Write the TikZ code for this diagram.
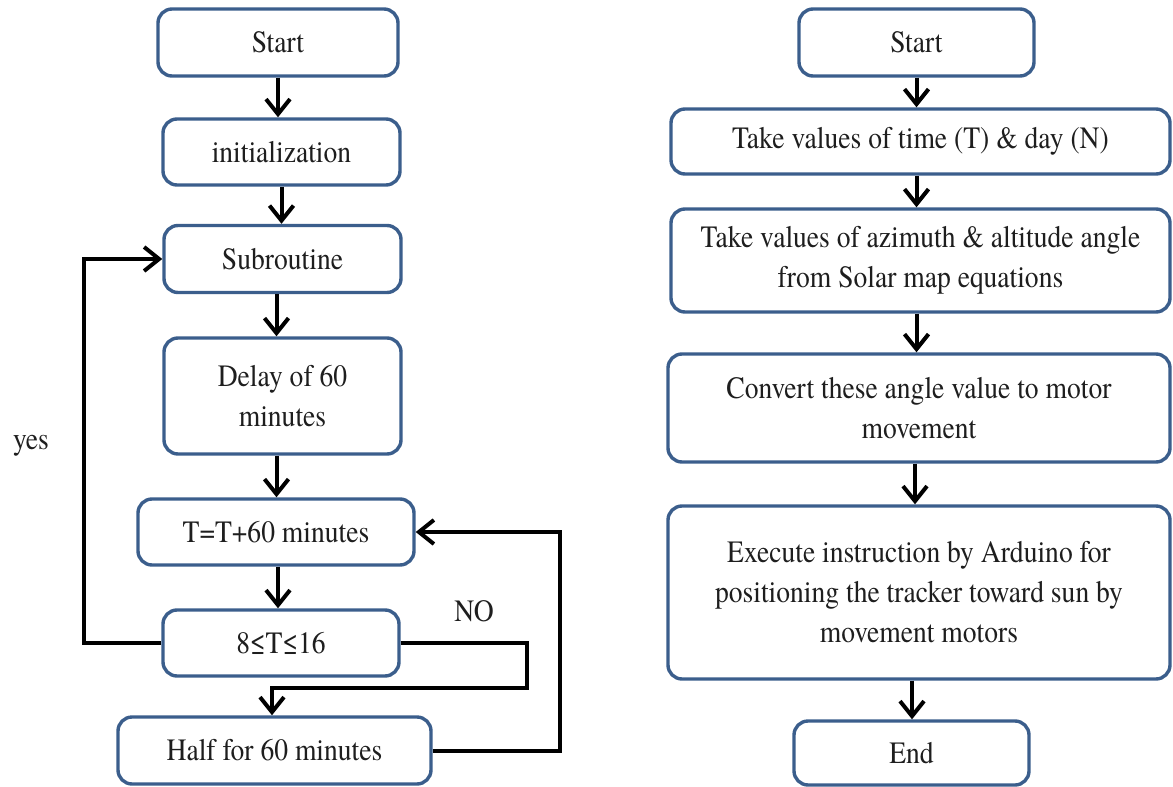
\documentclass[tikz,border=0pt]{standalone}
\usepackage{fontspec}
\newfontfamily\tnr[FakeStretch=0.89]{TeX Gyre Termes}
\usetikzlibrary{arrows.meta}
\definecolor{boxblue}{RGB}{59,94,140}
\definecolor{txt}{RGB}{30,30,30}
\begin{document}
\begin{tikzpicture}[x=1pt,y=-1pt,
  box/.style={draw=boxblue, line width=3.4pt, rounded corners=14pt, fill=white,
    inner sep=0pt, align=center, text=txt, font=\tnr\fontsize{31}{40}\selectfont},
  lbl/.style={inner sep=0pt, text=txt, font=\tnr\fontsize{31}{40}\selectfont},
  conn/.style={line width=4pt, -{Straight Barb[length=15pt,width=24pt]}}]
\useasboundingbox[fill=white] (0,0) rectangle (1173,787);
% left chart
\node[box, minimum width=240pt, minimum height=67pt] (L1) at (278,42.5) {Start};
\node[box, minimum width=237pt, minimum height=66pt] (L2) at (281.5,152) {initialization};
\node[box, minimum width=237pt, minimum height=67pt] (L3) at (282.5,259) {Subroutine};
\node[box, minimum width=237pt, minimum height=116pt] (L4) at (282.5,396) {Delay of 60\\minutes};
\node[box, minimum width=276pt, minimum height=66pt] (L5) at (276,532) {T=T+60 minutes};
\node[box, minimum width=236pt, minimum height=66pt] (L6) at (281,643) {8≤T≤16};
\node[box, minimum width=313pt, minimum height=67pt] (L7) at (274.5,750.5) {Half for 60 minutes};
\node[lbl] (yes) at (31,446) {yes};
\node[lbl] (no) at (474,611) {NO};
\draw[conn] (L1.south) -- (L1.south |- L2.north);
\draw[conn] (L2.south) -- (L2.south |- L3.north);
\draw[conn] ([xshift=-6pt]L3.south) -- ([xshift=-6pt]L3.south |- L4.north);
\draw[conn] ([xshift=-6pt]L4.south) -- ([xshift=-6pt]L4.south |- L5.north);
\draw[conn] ([xshift=2pt]L5.south) -- ([xshift=2pt]L5.south |- L6.north);
\coordinate (ly) at (84,643);
\draw[conn] (L6.west) -- (ly) |- (L3.west);
\coordinate (n1) at (527,688);
\coordinate (n2) at (272,688);
\draw[conn] (L6.east) -| (n1) -- (n2) -- (n2 |- L7.north);
\coordinate (r1) at (560,750.5);
\draw[conn] (L7.east) -- (r1) |- (L5.east);
% right chart
\node[box, minimum width=235pt, minimum height=67pt] (R1) at (916.5,42.5) {Start};
\node[box, minimum width=499pt, minimum height=65pt] (R2) at (920.5,141.5) {Take values of time (T) \& day (N)};
\node[box, minimum width=499pt, minimum height=103pt] (R3) at (920.5,260.5) {Take values of azimuth \& altitude angle\\from Solar map equations};
\node[box, minimum width=502pt, minimum height=108pt] (R4) at (919,408) {Convert these angle value to motor\\movement};
\node[box, minimum width=502pt, minimum height=173pt] (R5) at (919,592.5) {Execute instruction by Arduino for\\positioning the tracker toward sun by\\movement motors};
\node[box, minimum width=235pt, minimum height=64pt] (R6) at (911.5,753) {End};
\draw[conn] (R1.south) -- (R1.south |- R2.north);
\draw[conn] ([xshift=-4pt]R2.south) -- ([xshift=-4pt]R2.south |- R3.north);
\draw[conn] ([xshift=-4pt]R3.south) -- ([xshift=-4pt]R3.south |- R4.north);
\draw[conn] ([xshift=-4pt]R4.south) -- ([xshift=-4pt]R4.south |- R5.north);
\draw[conn] ([xshift=-7pt]R5.south) -- ([xshift=-7pt]R5.south |- R6.north);
\end{tikzpicture}
\end{document}
